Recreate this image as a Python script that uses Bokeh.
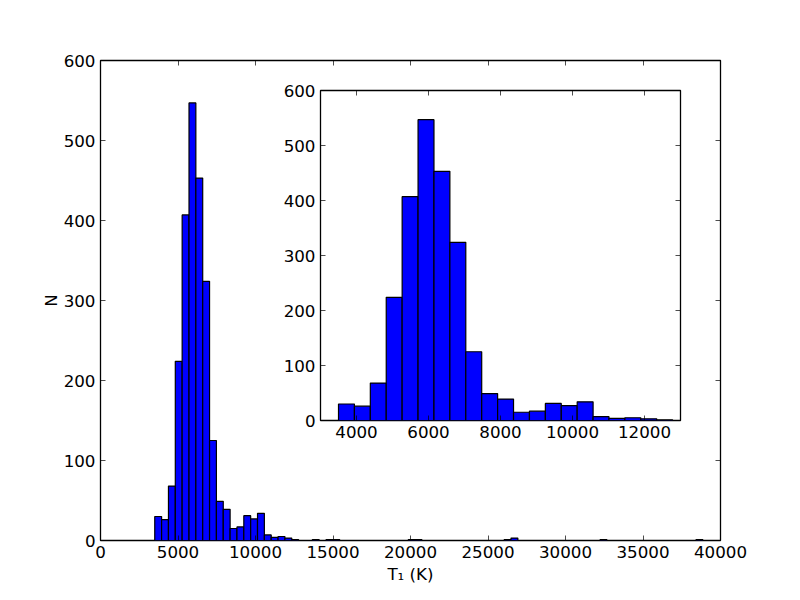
from bokeh.plotting import figure
from bokeh.models import LinearAxis, FixedTicker, GridBox, ColumnDataSource, Range1d
from bokeh.embed import file_html
from bokeh.resources import INLINE

# histogram: 80 equal bins starting at bin_start with width bin_width
bin_start = 3500
bin_width = 442
counts = [30, 26, 68, 224, 407, 547, 453, 324, 125, 49,
          39, 15, 17, 31, 27, 34, 7, 4, 5, 3,
          1, 0, 0, 1, 0, 1, 1, 0, 0, 0,
          0, 0, 0, 0, 0, 0, 0, 1, 1, 0,
          0, 0, 0, 0, 0, 0, 0, 0, 0, 0,
          0, 1, 3, 0, 0, 0, 0, 0, 0, 0,
          0, 0, 0, 0, 0, 1, 0, 0, 0, 0,
          0, 0, 0, 0, 0, 0, 0, 0, 0, 1]

main_xticks = [0, 5000, 10000, 15000, 20000, 25000, 30000, 35000, 40000]
main_yticks = [0, 100, 200, 300, 400, 500, 600]
inset_xticks = [4000, 6000, 8000, 10000, 12000]
inset_yticks = [0, 100, 200, 300, 400, 500, 600]

left = [bin_start + i * bin_width for i in range(len(counts)) if counts[i] > 0]
right = [x + bin_width for x in left]
top = [c for c in counts if c > 0]
src = ColumnDataSource(dict(left=left, right=right, top=top))

FONT = "DejaVu Sans"
FS = "16.7px"


def style(fig, xticks, yticks):
    fig.below[0].ticker = FixedTicker(ticks=xticks)
    fig.left[0].ticker = FixedTicker(ticks=yticks)
    top_ax = LinearAxis(ticker=FixedTicker(ticks=xticks))
    right_ax = LinearAxis(ticker=FixedTicker(ticks=yticks))
    fig.add_layout(top_ax, "above")
    fig.add_layout(right_ax, "right")
    for ax in [fig.below[0], fig.left[0], top_ax, right_ax]:
        ax.axis_line_color = None
        ax.major_tick_in = 5
        ax.major_tick_out = 0
        ax.major_tick_line_color = "black"
        ax.major_tick_line_width = 0.7
        ax.minor_tick_line_color = None
        ax.major_label_text_font = FONT
        ax.major_label_text_font_size = FS
        ax.major_label_text_color = "black"
        ax.major_label_standoff = 5
        ax.axis_label_text_font = FONT
        ax.axis_label_text_font_size = FS
        ax.axis_label_text_font_style = "normal"
        ax.axis_label_text_color = "black"
    for ax in [top_ax, right_ax]:
        ax.major_label_text_font_size = "1px"
        ax.major_label_text_color = None
        ax.major_label_standoff = 0
    fig.xgrid.grid_line_color = None
    fig.ygrid.grid_line_color = None
    fig.outline_line_color = "black"
    fig.outline_line_width = 1.3
    fig.background_fill_color = None
    fig.border_fill_color = None
    fig.quad(left="left", right="right", top="top", bottom=0, source=src,
             fill_color="#0000ff", line_color="black", line_width=1.2)


p = figure(width=784, height=592, x_range=Range1d(0, 40000), y_range=Range1d(0, 600),
           output_backend="svg", toolbar_location=None,
           min_border_left=100, min_border_right=64, min_border_top=60, min_border_bottom=52)
style(p, main_xticks, main_yticks)
p.below[0].axis_label = "T\u2081 (K)"
p.left[0].axis_label = "N"
p.below[0].axis_label_standoff = 3
p.left[0].axis_label_standoff = 0

inset = figure(width=447, height=385, x_range=Range1d(3000, 13000), y_range=Range1d(0, 600),
               output_backend="svg", toolbar_location=None,
               min_border_left=42, min_border_right=45, min_border_top=25, min_border_bottom=30)
style(inset, inset_xticks, inset_yticks)

gb = GridBox(children=[(p, 0, 0, 3, 3), (inset, 1, 1, 1, 1)],
             rows=["65px", "385px", "142px"], cols=["278px", "447px", "59px"], spacing=0)

open("out.html", "w").write(file_html(gb, INLINE))
